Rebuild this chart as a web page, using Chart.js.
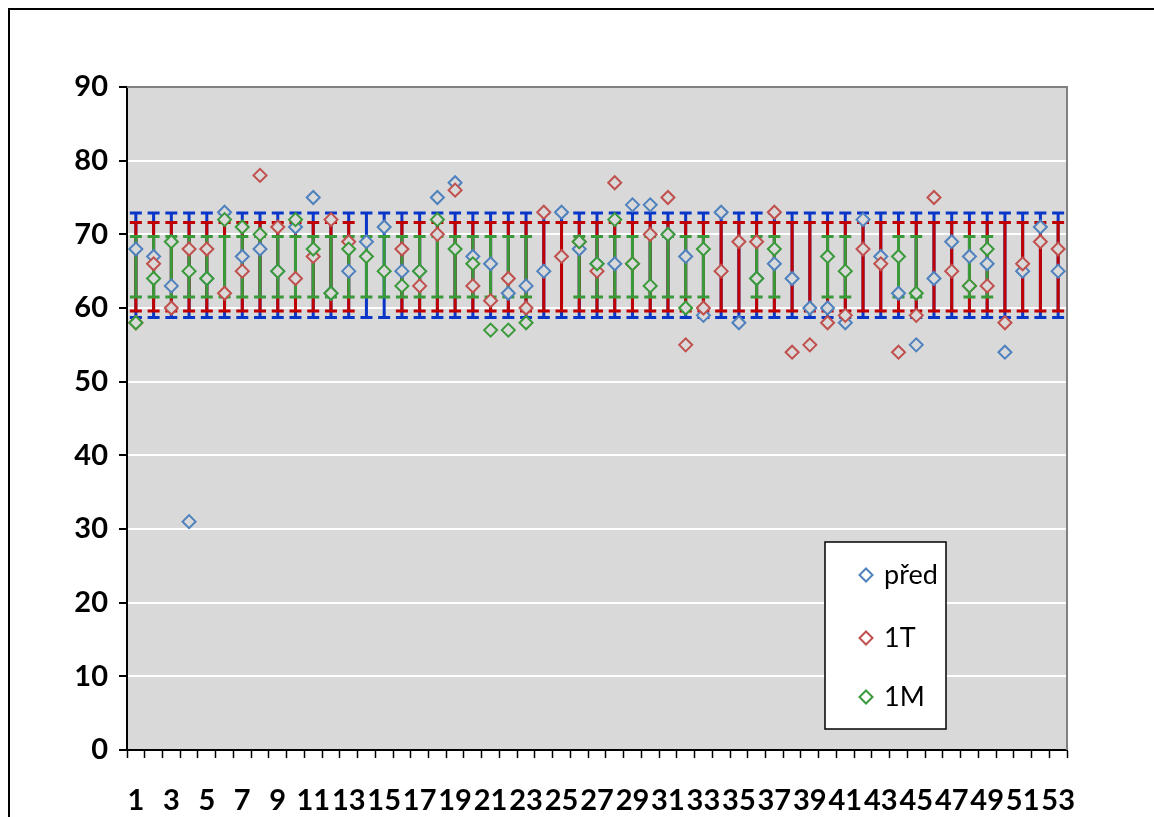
<!DOCTYPE html>
<html>
<head>
<meta charset="utf-8">
<script src="https://cdn.jsdelivr.net/npm/chart.js@4"></script>
<style>
  html, body { margin: 0; padding: 0; background: #fff; }
  #wrap { position: relative; width: 1154px; height: 817px; }
</style>
</head>
<body>
<div id="wrap"><canvas id="myChart" width="1154" height="817"></canvas></div>
<script>
// categories 1..53
const categories = ['1','2','3','4','5','6','7','8','9','10','11','12','13','14','15','16','17','18','19','20',
  '21','22','23','24','25','26','27','28','29','30','31','32','33','34','35','36','37','38','39','40',
  '41','42','43','44','45','46','47','48','49','50','51','52','53'];

const pred = [68, 67, 63, 31, 64, 73, 67, 68, 65, 71, 75, 62, 65, 69, 71, 65, 65, 75, 77, 67,
  66, 62, 63, 65, 73, 68, 66, 66, 74, 74, 70, 67, 59, 73, 58, 64, 66, 64, 60, 60,
  58, 72, 67, 62, 55, 64, 69, 67, 66, 54, 65, 71, 65];

const t1 = [58, 66, 60, 68, 68, 62, 65, 78, 71, 64, 67, 72, 69, null, null, 68, 63, 70, 76, 63,
  61, 64, 60, 73, 67, 69, 65, 77, 66, 70, 75, 55, 60, 65, 69, 69, 73, 54, 55, 58,
  59, 68, 66, 54, 59, 75, 65, 63, 63, 58, 66, 69, 68];

const m1 = [58, 64, 69, 65, 64, 72, 71, 70, 65, 72, 68, 62, 68, 67, 65, 63, 65, 72, 68, 66,
  57, 57, 58, null, null, 69, 66, 72, 66, 63, 70, 60, 68, null, null, 64, 68, null, null, 67,
  65, null, null, 67, 62, null, null, 63, 68, null, null, null, null];

// error bars (mean +/- sd) per series
const errMean = [65.8, 65.6, 65.6];
const errSd = [7.1, 6.0, 4.1];

const yTicks = [0, 10, 20, 30, 40, 50, 60, 70, 80, 90];

const seriesNames = ['před', '1T', '1M'];
const markerColors = ['#4f81bd', '#c0504d', '#3a9a3a'];
const barColors = ['#0a36c8', '#c00000', '#3a9a3a'];
const seriesData = [pred, t1, m1];

const FONT = "Lato, 'Liberation Sans', sans-serif";

const frame = {
  id: 'frame',
  beforeDraw(chart) {
    const c = chart.ctx, a = chart.chartArea;
    c.save();
    c.fillStyle = '#d9d9d9';
    c.fillRect(a.left, a.top, a.right - a.left, a.bottom - a.top);
    // outer chart border (cropped)
    c.strokeStyle = '#000';
    c.lineWidth = 2;
    c.beginPath();
    c.moveTo(9, chart.height);
    c.lineTo(9, 9);
    c.lineTo(chart.width, 9);
    c.stroke();
    c.restore();
  },
  afterDraw(chart) {
    const c = chart.ctx, a = chart.chartArea;
    c.save();
    c.strokeStyle = '#808080';
    c.lineWidth = 2;
    c.beginPath();
    c.moveTo(a.left, a.top);
    c.lineTo(a.right, a.top);
    c.lineTo(a.right, a.bottom);
    c.stroke();

    // legend box
    const lx = 825, ly = 542, lw = 121, lh = 187;
    c.fillStyle = '#fff';
    c.fillRect(lx, ly, lw, lh);
    c.strokeStyle = '#000';
    c.lineWidth = 1.5;
    c.strokeRect(lx, ly, lw, lh);
    const rows = [575, 638, 697];
    c.font = "27px " + FONT;
    c.textBaseline = 'middle';
    c.textAlign = 'left';
    for (let i = 0; i < 3; i++) {
      const cx = 866, cy = rows[i], r = 6.5;
      c.beginPath();
      c.moveTo(cx, cy - r);
      c.lineTo(cx + r, cy);
      c.lineTo(cx, cy + r);
      c.lineTo(cx - r, cy);
      c.closePath();
      c.fillStyle = '#fff';
      c.fill();
      c.strokeStyle = markerColors[i];
      c.lineWidth = 2;
      c.stroke();
      c.fillStyle = '#000';
      c.fillText(seriesNames[i], 884, cy);
    }
    c.restore();
  }
};

const errorBars = {
  id: 'errorBars',
  beforeDatasetsDraw(chart) {
    const c = chart.ctx;
    const x = chart.scales.x, y = chart.scales.y;
    c.save();
    for (let s = 0; s < 3; s++) {
      const yHi = y.getPixelForValue(errMean[s] + errSd[s]);
      const yLo = y.getPixelForValue(errMean[s] - errSd[s]);
      c.strokeStyle = barColors[s];
      c.lineWidth = 3;
      seriesData[s].forEach((v, i) => {
        if (v === null) return;
        const px = x.getPixelForValue(i);
        c.beginPath();
        c.moveTo(px, yHi);
        c.lineTo(px, yLo);
        c.moveTo(px - 6, yHi);
        c.lineTo(px + 6, yHi);
        c.moveTo(px - 6, yLo);
        c.lineTo(px + 6, yLo);
        c.stroke();
      });
    }
    c.restore();
  }
};

function makeSet(i, order) {
  return {
    label: seriesNames[i],
    data: seriesData[i],
    showLine: false,
    pointStyle: 'rectRot',
    pointRadius: 6.5,
    pointHoverRadius: 6.5,
    pointBorderWidth: 2,
    borderColor: markerColors[i],
    pointBackgroundColor: '#d9d9d9',
    backgroundColor: '#d9d9d9',
    order: order
  };
}

new Chart(document.getElementById('myChart'), {
  type: 'line',
  data: {
    labels: categories,
    datasets: [makeSet(0, 3), makeSet(1, 2), makeSet(2, 1)]
  },
  options: {
    responsive: false,
    animation: false,
    layout: { padding: { top: 87, right: 87, left: 0, bottom: 0 } },
    plugins: { legend: { display: false }, tooltip: { enabled: false } },
    scales: {
      x: {
        offset: true,
        afterFit: function (scale) { scale.height = 67; },
        grid: { offset: true, drawOnChartArea: false, drawTicks: true, tickLength: 8, tickColor: '#000', tickWidth: 1.5 },
        border: { color: '#000', width: 2 },
        ticks: {
          autoSkip: false,
          maxRotation: 0,
          padding: 25,
          color: '#000',
          font: { family: FONT, size: 29, weight: 'bold' },
          callback: function (value, index) {
            return index % 2 === 0 ? categories[index] : '';
          }
        }
      },
      y: {
        min: 0,
        max: 90,
        afterFit: function (scale) { scale.width = 127; },
        afterBuildTicks: function (scale) {
          scale.ticks = yTicks.map(v => ({ value: v }));
        },
        grid: { color: '#ffffff', lineWidth: 2, tickLength: 8, tickColor: '#000' },
        border: { color: '#000', width: 2 },
        ticks: {
          padding: 11,
          color: '#000',
          font: { family: FONT, size: 29, weight: 'bold' }
        }
      }
    }
  },
  plugins: [frame, errorBars]
});
</script>
</body>
</html>
